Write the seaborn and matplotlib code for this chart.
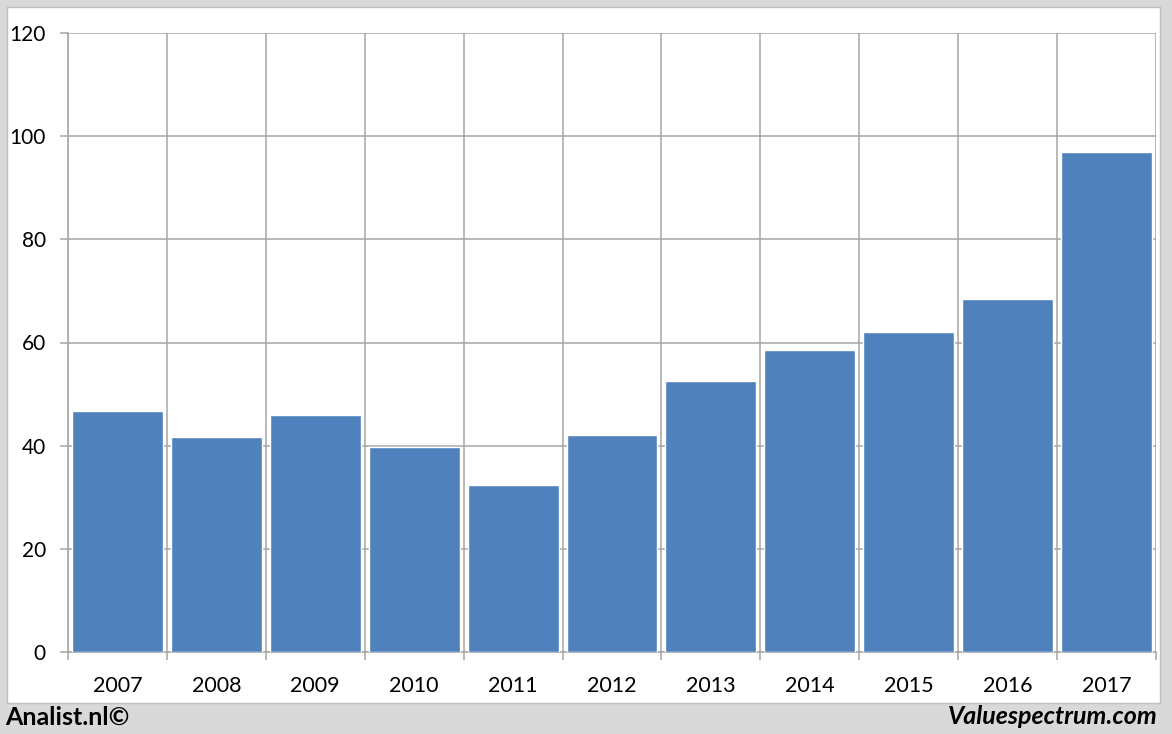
import matplotlib
matplotlib.use("Agg")
import matplotlib.pyplot as plt
import seaborn as sns
import pandas as pd
from matplotlib.patches import Rectangle
from matplotlib.ticker import FixedLocator

years = ["2007", "2008", "2009", "2010", "2011", "2012", "2013", "2014", "2015", "2016", "2017"]
values = [46.7, 41.7, 45.9, 39.7, 32.4, 42.1, 52.5, 58.5, 62.0, 68.4, 96.9]
y_ticks = [0, 20, 40, 60, 80, 100, 120]

sns.set_theme(style="white")
plt.rcParams['font.family'] = ['Lato', 'DejaVu Sans']

W, H = 1172, 734
fig = plt.figure(figsize=(W / 100, H / 100), dpi=100)
fig.patch.set_facecolor("#d9d9d9")
fig.add_artist(Rectangle((7 / W, 1 - 703 / H), (1160 - 7) / W, (703 - 7) / H,
                         transform=fig.transFigure, facecolor="white",
                         edgecolor="#bfbfbf", linewidth=1, zorder=-5))

ax = fig.add_axes([68 / W, 1 - 652 / H, (1156 - 68) / W, (652 - 33) / H])
ax.set_zorder(1)
ax.set_facecolor("white")
df = pd.DataFrame({"year": years, "value": values})
sns.barplot(data=df, x="year", y="value", color="#4f81bd", saturation=1,
            width=0.92, ax=ax, zorder=3)

ax.set_xlim(-0.5, len(years) - 0.5)
ax.set_ylim(0, 120)
ax.set_yticks(y_ticks)
ax.set_xlabel("")
ax.set_ylabel("")

bounds = [i - 0.5 for i in range(len(years) + 1)]
ax.xaxis.set_minor_locator(FixedLocator(bounds))
ax.grid(False)
ax.grid(True, which="minor", axis="x", color="#a6a6a6", linewidth=1.1, zorder=0)
ax.grid(True, which="major", axis="y", color="#a6a6a6", linewidth=1.1, zorder=0)
ax.set_axisbelow(True)

ax.tick_params(axis="x", which="major", length=0, pad=17, labelsize=15.5, labelcolor="black")
ax.tick_params(axis="x", which="minor", length=6, width=1.1, color="#a6a6a6", bottom=True)
ax.tick_params(axis="y", which="major", length=6, width=1.1, color="#a6a6a6", left=True,
               pad=10, labelsize=15, labelcolor="black")

for s in ["top", "right"]:
    ax.spines[s].set_visible(False)
for s in ["left", "bottom"]:
    ax.spines[s].set_color("#a6a6a6")
    ax.spines[s].set_linewidth(1.1)

fig.text(5 / W, 1 - 717 / H, "Analist.nl©", fontsize=18, fontweight="bold",
         ha="left", va="center", color="black")
fig.text(1158 / W, 1 - 717 / H, "Valuespectrum.com", fontsize=18, fontweight="bold",
         fontstyle="italic", ha="right", va="center", color="black")

fig.savefig("out.png", dpi=100, facecolor=fig.get_facecolor())
